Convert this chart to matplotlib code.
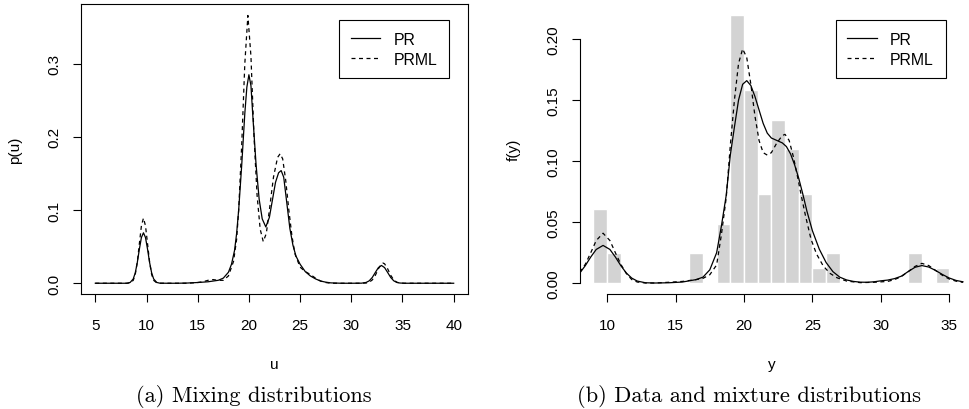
import matplotlib
matplotlib.use("Agg")
import matplotlib.pyplot as plt

plt.rcParams['font.family'] = ['Liberation Sans', 'DejaVu Sans']
plt.rcParams['font.size'] = 11

# (a) mixing distributions
u_pr = [5, 6, 7, 8, 8.1, 8.4, 8.7, 8.9, 9.1, 9.3, 9.5, 9.7, 9.9, 10.1, 10.3, 10.5, 10.7, 11.0, 11.3,
        12, 13, 14, 15, 16, 17, 17.5, 18.0, 18.3, 18.6, 18.8, 19.0, 19.3, 19.6, 19.8, 20.0, 20.2,
        20.4, 20.7, 21.0, 21.3, 21.65, 22.0, 22.3, 22.6, 22.9, 23.15, 23.4, 23.7, 24.0, 24.3, 24.6,
        25.0, 25.5, 26.0, 26.5, 27.0, 27.5, 28, 29, 30, 31.0, 31.45, 31.75, 32.05, 32.35, 32.65,
        32.95, 33.25, 33.55, 33.85, 34.15, 34.45, 34.75, 35.2, 36, 38, 40]
p_pr = [0, 0, 0, 0, 0.0001, 0.0011, 0.0058, 0.0142, 0.0284, 0.0465, 0.0625, 0.069, 0.0625, 0.0465,
        0.0284, 0.0142, 0.0058, 0.0011, 0.0001,
        0, 0, 0.0003, 0.001, 0.002, 0.004, 0.007, 0.015, 0.026, 0.045, 0.068, 0.10, 0.162, 0.232,
        0.268, 0.285, 0.270, 0.225, 0.162, 0.115, 0.088, 0.077, 0.090, 0.114, 0.138, 0.151, 0.154,
        0.145, 0.110, 0.075, 0.052, 0.037, 0.026, 0.016, 0.010, 0.006, 0.003, 0.0015, 0.0005, 0, 0,
        0.0001, 0.0011, 0.0033, 0.0079, 0.0148, 0.0214, 0.0243, 0.0214, 0.0148, 0.0079, 0.0033,
        0.0011, 0.0003, 0, 0, 0, 0]

u_prml = [5, 6, 7, 8, 8.1, 8.4, 8.7, 8.9, 9.1, 9.3, 9.5, 9.7, 9.9, 10.1, 10.3, 10.5, 10.7, 11.0, 11.3,
          12, 13, 14, 15, 15.5, 16.0, 16.5, 17.0, 17.5, 18.0, 18.5, 18.8, 19.0, 19.3, 19.6, 19.9,
          20.2, 20.5, 20.8, 21.1, 21.4, 21.7, 22.0, 22.4, 22.8, 23.05, 23.3, 23.6, 23.9, 24.2, 24.5,
          25.0, 25.5, 26.0, 26.5, 27.0, 27.5, 28, 30, 31.0, 31.45, 31.75, 32.05, 32.35, 32.65, 32.95,
          33.1, 33.25, 33.55, 33.85, 34.15, 34.45, 34.75, 35.2, 36, 38, 40]
p_prml = [0, 0, 0, 0, 0, 0.0005, 0.0039, 0.012, 0.0289, 0.054, 0.0785, 0.089, 0.0785, 0.054, 0.0289,
          0.012, 0.0039, 0.0005, 0,
          0, 0, 0, 0.001, 0.002, 0.004, 0.005, 0.004, 0.004, 0.010, 0.030, 0.060, 0.10, 0.19, 0.30,
          0.366, 0.31, 0.20, 0.12, 0.074, 0.057, 0.068, 0.10, 0.145, 0.172, 0.177, 0.170, 0.140,
          0.100, 0.065, 0.040, 0.022, 0.016, 0.012, 0.007, 0.003, 0.001, 0, 0,
          0, 0.0003, 0.0014, 0.0045, 0.0109, 0.0198, 0.0266, 0.0276, 0.0266, 0.0198, 0.0109, 0.0045,
          0.0014, 0.0003, 0, 0, 0, 0]

# (b) histogram of the data (density per unit bin) and fitted mixtures
bin_left = [9, 10, 16, 18, 19, 20, 21, 22, 23, 24, 25, 26, 32, 34]
bin_dens = [0.061, 0.0244, 0.0244, 0.0488, 0.2195, 0.1585, 0.0732, 0.1341, 0.1098, 0.0732,
            0.0122, 0.0244, 0.0244, 0.0122]

y_pr = [8.0, 8.4, 8.8, 9.2, 9.7, 10.2, 10.6, 11.0, 11.4, 11.8, 12.2, 12.8, 13.5, 14.5, 15.5, 16.5,
        17.0, 17.5, 18.0, 18.35, 18.7, 19.0, 19.3, 19.6, 19.9, 20.2, 20.5, 20.8, 21.1, 21.4, 21.7,
        22.0, 22.4, 22.8, 23.1, 23.4, 23.7, 24.0, 24.3, 24.6, 25.0, 25.5, 26.0, 26.5, 27.0, 27.5,
        28.0, 28.5, 29.0, 29.5, 30.0, 30.5, 31.0, 31.5, 32.0, 32.5, 33.0, 33.5, 34.0, 34.5, 35.0,
        35.5, 36.0]
f_pr = [0.0084, 0.0144, 0.0215, 0.0277, 0.031, 0.0277, 0.0215, 0.0144, 0.0084, 0.0042, 0.0018,
        0.0004, 0.0002, 0.0004, 0.001, 0.003, 0.005, 0.011, 0.025, 0.047, 0.072, 0.105, 0.128,
        0.150, 0.163, 0.166, 0.162, 0.153, 0.142, 0.131, 0.123, 0.119, 0.117, 0.115, 0.112, 0.106,
        0.097, 0.086, 0.073, 0.059, 0.043, 0.028, 0.017, 0.0095, 0.005, 0.0027, 0.0015, 0.0009,
        0.0008, 0.0012, 0.002, 0.0026, 0.0038, 0.0058, 0.0096, 0.0131, 0.0145, 0.0133, 0.0105,
        0.0072, 0.0043, 0.0023, 0.0012]

y_prml = [8.0, 8.4, 8.8, 9.2, 9.7, 10.2, 10.6, 11.0, 11.4, 11.8, 12.2, 12.8, 13.5, 14.5, 15.5, 16.5,
          17.0, 17.5, 18.0, 18.35, 18.7, 19.0, 19.3, 19.6, 19.9, 20.2, 20.5, 20.8, 21.1, 21.4, 21.7,
          22.0, 22.4, 22.8, 23.0, 23.3, 23.6, 23.9, 24.2, 24.5, 24.9, 25.3, 25.8, 26.3, 26.8, 27.5,
          28.5, 29.5, 30.5, 31.0, 31.5, 32.0, 32.5, 33.0, 33.5, 34.0, 34.5, 35.0, 35.5, 36.0]
f_prml = [0.009, 0.0155, 0.025, 0.035, 0.041, 0.035, 0.025, 0.0155, 0.008, 0.003, 0.001, 0.0002,
          0.0002, 0.0008, 0.0015, 0.003, 0.004, 0.007, 0.015, 0.040, 0.070, 0.113, 0.150, 0.180,
          0.192, 0.185, 0.163, 0.137, 0.117, 0.107, 0.105, 0.107, 0.115, 0.121, 0.122, 0.117, 0.104,
          0.088, 0.071, 0.055, 0.036, 0.024, 0.014, 0.008, 0.0045, 0.0018, 0.0005, 0.0008, 0.0015,
          0.003, 0.0055, 0.0095, 0.0138, 0.0163, 0.0145, 0.0105, 0.0065, 0.0035, 0.0017, 0.0007]

fig = plt.figure(figsize=(9.69, 4.10), dpi=100)
ax1 = fig.add_axes([81/969, 115/410, 387/969, 290/410])
ax2 = fig.add_axes([579.8/969, 115/410, 384.5/969, 290/410])

dash = (0, (3.2, 2.8))

# left panel
ax1.plot(u_pr, p_pr, color='k', lw=0.9, label='PR')
ax1.plot(u_prml, p_prml, color='k', lw=0.9, linestyle=dash, label='PRML')
ax1.set_xlim(3.6, 41.4)
ax1.set_ylim(-0.0147, 0.3817)
ax1.set_xticks([5, 10, 15, 20, 25, 30, 35, 40])
ax1.set_yticks([0.0, 0.1, 0.2, 0.3])
ax1.set_yticklabels(['0.0', '0.1', '0.2', '0.3'])
for s in ax1.spines.values():
    s.set_linewidth(0.8)
ax1.set_xlabel('u')
ax1.set_ylabel('p(u)')
ax1.xaxis.set_label_coords(0.5, -70/290)
ax1.xaxis.label.set_va('center')
ax1.yaxis.set_label_coords(-66/387, 0.5)
ax1.yaxis.label.set_va('center')

# right panel
ax2.bar(bin_left, bin_dens, width=1, align='edge', color='#d3d3d3', edgecolor='white', linewidth=1)
ax2.plot(y_pr, f_pr, color='k', lw=0.9, label='PR')
ax2.plot(y_prml, f_prml, color='k', lw=0.9, linestyle=dash, label='PRML')
ax2.set_xlim(8, 36.1)
ax2.set_ylim(-0.0088, 0.2288)
ax2.set_xticks([10, 15, 20, 25, 30, 35])
ax2.set_yticks([0.0, 0.05, 0.10, 0.15, 0.20])
ax2.set_yticklabels(['0.00', '0.05', '0.10', '0.15', '0.20'])
ax2.spines['top'].set_visible(False)
ax2.spines['right'].set_visible(False)
ax2.spines['left'].set_bounds(0, 0.20)
ax2.spines['bottom'].set_bounds(10, 35)
ax2.spines['left'].set_linewidth(0.8)
ax2.spines['bottom'].set_linewidth(0.8)
ax2.set_xlabel('y')
ax2.set_ylabel('f(y)')
ax2.xaxis.set_label_coords(0.5, -70/290)
ax2.xaxis.label.set_va('center')
ax2.yaxis.set_label_coords(-66.5/384.5, 0.5)
ax2.yaxis.label.set_va('center')

for ax in (ax1, ax2):
    ax.tick_params(direction='out', length=5.8, width=0.8, labelsize=11)
    ax.tick_params(axis='x', pad=11.5)
    ax.tick_params(axis='y', pad=8, labelrotation=90)
    for t in ax.get_yticklabels():
        t.set_va('center')
    leg = ax.legend(loc='upper right', bbox_to_anchor=(0.952, 0.946), fontsize=11.4,
                    frameon=True, fancybox=False, edgecolor='k', framealpha=1,
                    handlelength=1.85, handletextpad=0.85, labelspacing=0.32,
                    borderpad=0.75, borderaxespad=0)
    leg.get_frame().set_linewidth(0.8)

fig.text(253.5/969, 13/410, '(a) Mixing distributions', ha='center', va='center',
         family='cmr10', fontsize=16.2)
fig.text(749/969, 13/410, '(b) Data and mixture distributions', ha='center', va='center',
         family='cmr10', fontsize=16.2)

fig.savefig('out.png', dpi=100)
